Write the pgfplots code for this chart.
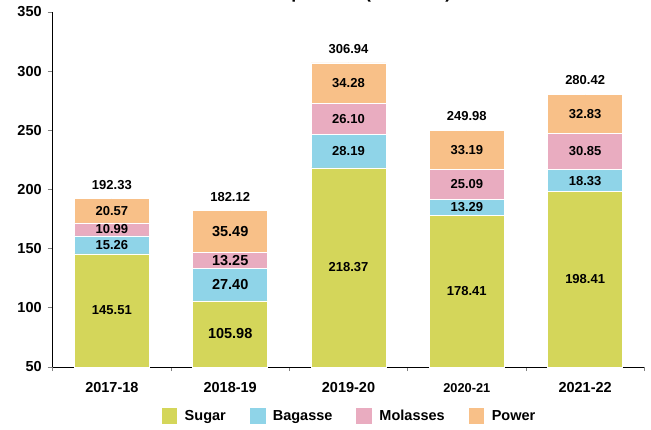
\documentclass[border=0pt]{standalone}
\usepackage{fontspec}
\setmainfont{Liberation Sans}
\newfontfamily\dejavu{DejaVu Sans}
\usepackage{pgfplots}
\usepackage{pgfplotstable}
\pgfplotsset{compat=1.18}
\definecolor{csugar}{HTML}{D4D65A}
\definecolor{cbagasse}{HTML}{8FD4E8}
\definecolor{cmolasses}{HTML}{E9ACC0}
\definecolor{cpower}{HTML}{F8C088}

\pgfplotstableread{
x sugar bagasse molasses power total
0 145.51 15.26 10.99 20.57 192.33
1 105.98 27.40 13.25 35.49 182.12
2 218.37 28.19 26.10 34.28 306.94
3 178.41 13.29 25.09 33.19 249.98
4 198.41 18.33 30.85 32.83 280.42
}\data

\pgfplotsset{
  common/.style={width=591.6pt, height=355pt, scale only axis,
    xmin=-0.5, xmax=4.5, ymin=50, ymax=350},
  lbl/.style={only marks, mark=*, mark size=0pt, mark options={draw=none,fill=none},
    nodes near coords, point meta=explicit symbolic,
    every node near coord/.append style={anchor=center, inner sep=0pt, text=black,
      font=\bfseries\fontsize{13}{13}\selectfont}},
  big/.style={restrict x to domain=0.9:1.1,
    every node near coord/.append style={font=\bfseries\fontsize{14.5}{14.5}\selectfont}},
}

\begin{document}
\begin{tikzpicture}
\begin{axis}[common, name=main,
  ybar stacked, bar width=75pt,
  axis x line=bottom, axis y line=left,
  axis line style={-, black, line width=0.8pt},
  tick align=outside,
  ytick={50,100,...,350},
  xtick={0,...,4},
  xticklabels={2017-18,2018-19,2019-20,{\fontsize{12.8}{12.8}\selectfont 2020-21},2021-22},
  minor xtick={-0.5,0.5,...,4.5},
  major x tick style={draw=none},
  minor x tick style={gray, line width=0.8pt},
  minor tick length=4pt,
  major tick length=5pt,
  y tick style={gray, line width=0.8pt},
  /pgf/number format/assume math mode=true,
  ticklabel style={font=\bfseries\fontsize{14.5}{14.5}\selectfont},
  xticklabel style={anchor=center, yshift=-16pt},
  yticklabel style={xshift=-2.5pt},
  legend columns=4,
  legend style={at={(0.5,0)}, anchor=center, yshift=-49pt, draw=none, fill=none,
    font=\bfseries\fontsize{14.5}{14.5}\selectfont,
    nodes={inner sep=0pt},
    /tikz/every odd column/.append style={column sep=7.3pt},
    /tikz/every even column/.append style={column sep=24pt}},
  legend image code/.code={\fill[#1,draw=none] (0pt,-7.85pt) rectangle (15.7pt,7.85pt);},
  title={Sales Composition ({\dejavu\bfseries ₹} Crores)},
  title style={at={(0.462,1)}, anchor=base, yshift=7.5pt, font=\bfseries\fontsize{17.7}{17.7}\selectfont},
]
\addplot[fill=csugar, draw=white, line width=0.5pt] table[x=x, y=sugar]{\data};
\addplot[fill=cbagasse, draw=white, line width=0.5pt] table[x=x, y=bagasse]{\data};
\addplot[fill=cmolasses, draw=white, line width=0.5pt] table[x=x, y=molasses]{\data};
\addplot[fill=cpower, draw=white, line width=0.5pt] table[x=x, y=power]{\data};
\legend{Sugar,Bagasse,Molasses,Power}
\end{axis}
\begin{axis}[common, at={(main.south west)}, anchor=south west, hide axis, clip=false]
\addplot[lbl, skip coords between index={1}{2}] table[x=x, y expr={(50+\thisrow{sugar})/2}, meta=sugar]{\data};
\addplot[lbl, skip coords between index={1}{2}] table[x=x, y expr={\thisrow{sugar}+\thisrow{bagasse}/2}, meta=bagasse]{\data};
\addplot[lbl, skip coords between index={1}{2}] table[x=x, y expr={\thisrow{sugar}+\thisrow{bagasse}+\thisrow{molasses}/2}, meta=molasses]{\data};
\addplot[lbl, skip coords between index={1}{2}] table[x=x, y expr={\thisrow{sugar}+\thisrow{bagasse}+\thisrow{molasses}+\thisrow{power}/2}, meta=power]{\data};
\addplot[lbl, big] table[x=x, y expr={(50+\thisrow{sugar})/2}, meta=sugar]{\data};
\addplot[lbl, big] table[x=x, y expr={\thisrow{sugar}+\thisrow{bagasse}/2}, meta=bagasse]{\data};
\addplot[lbl, big] table[x=x, y expr={\thisrow{sugar}+\thisrow{bagasse}+\thisrow{molasses}/2}, meta=molasses]{\data};
\addplot[lbl, big] table[x=x, y expr={\thisrow{sugar}+\thisrow{bagasse}+\thisrow{molasses}+\thisrow{power}/2}, meta=power]{\data};
\addplot[lbl, every node near coord/.append style={yshift=14pt}] table[x=x, y=total, meta=total]{\data};
\end{axis}
\pgfresetboundingbox
\path (main.south west) ++(-52.7pt,-62pt) rectangle ++(651pt,429pt);
\end{tikzpicture}
\end{document}
